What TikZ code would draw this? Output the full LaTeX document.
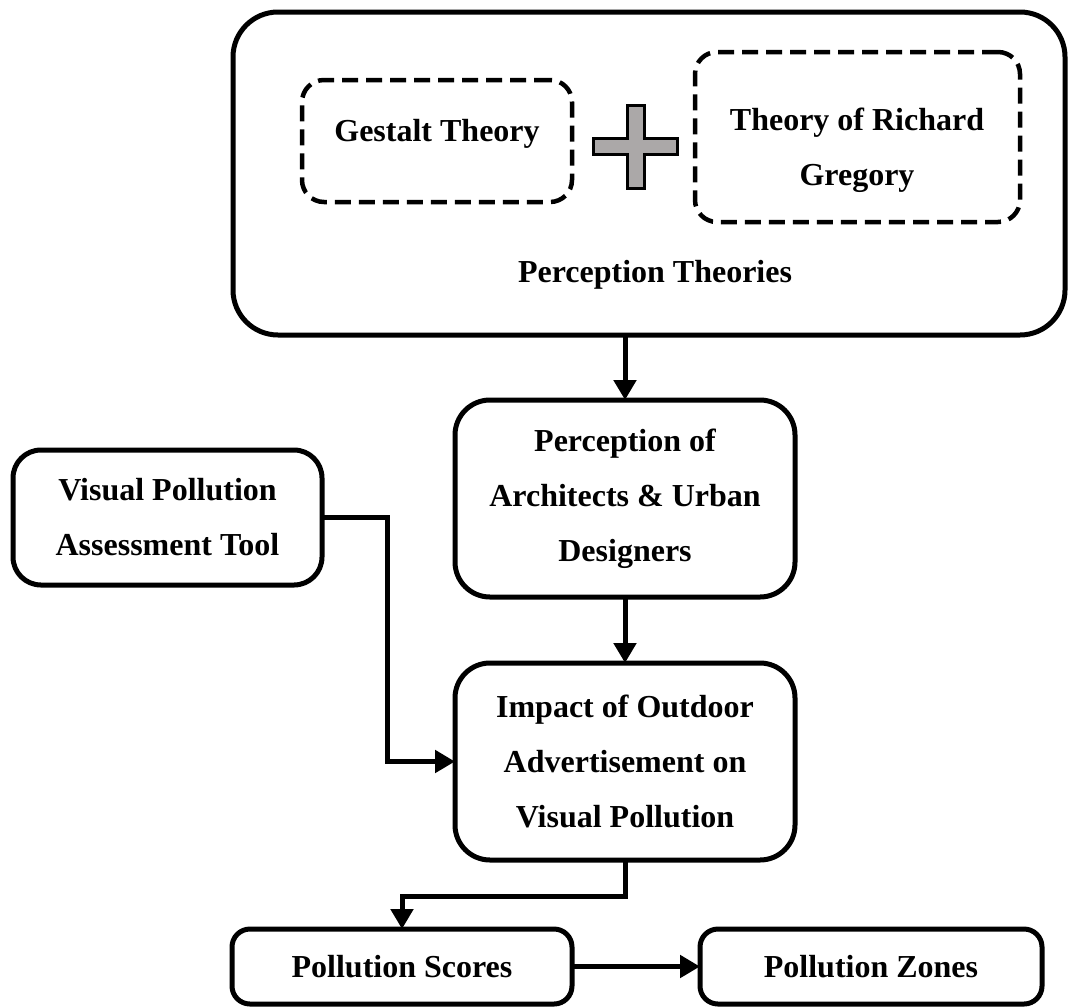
\documentclass[tikz,border=0pt]{standalone}
\usepackage{fontspec}
\setmainfont{Liberation Serif}
\usetikzlibrary{arrows.meta,calc}
\definecolor{plusgray}{HTML}{ABA8A8}
\begin{document}
\begin{tikzpicture}[x=1pt,y=1pt,
  txt/.style={font=\bfseries\fontsize{32}{55}\selectfont, align=center, inner sep=0pt},
  solidbox/.style={draw, line width=5pt, rounded corners=#1, inner sep=0pt, outer sep=0pt,
     font=\bfseries\fontsize{32}{55}\selectfont, align=center},
  dbox/.style={draw, line width=4.5pt, rounded corners=22pt, dash pattern=on 16pt off 8pt,
     inner sep=0pt, outer sep=0pt},
  arr/.style={line width=5pt, -{Triangle[length=20pt,width=22pt]}},
  conn/.style={line width=5pt}
]
\useasboundingbox (0,0) rectangle (1070,-1007);

% Perception theories container
\node[solidbox=45pt, minimum width=832pt, minimum height=323pt] (pt) at (649,-173.5) {};
\node[txt] (ptt) at (655,-275) {Perception Theories};

% dashed boxes
\node[dbox, minimum width=270pt, minimum height=122pt] (gt) at (437,-141) {};
\node[txt] (gtt) at (437,-134) {Gestalt Theory};
\node[dbox, minimum width=325pt, minimum height=170pt] (rg) at (857.5,-137) {};
\node[txt] (rgt) at (857,-150) {Theory of Richard\\Gregory};

% plus sign
\filldraw[fill=plusgray, draw=black, line width=3pt]
  (627,-105) -- (644,-105) -- (644,-138) -- (677,-138) -- (677,-154) -- (644,-154)
  -- (644,-188) -- (627,-188) -- (627,-154) -- (593,-154) -- (593,-138) -- (627,-138) -- cycle;

% main boxes
\node[solidbox=35pt, minimum width=340pt, minimum height=197pt] (pa) at (625,-498.5)
  {Perception of\\Architects \& Urban\\Designers};
\node[solidbox=28pt, minimum width=309pt, minimum height=135pt] (vp) at (167.5,-517.5)
  {Visual Pollution\\Assessment Tool};
\node[solidbox=35pt, minimum width=340pt, minimum height=197pt] (imp) at (625,-761.5)
  {Impact of Outdoor\\Advertisement on\\Visual Pollution};
\node[solidbox=18pt, minimum width=340pt, minimum height=75pt] (ps) at (402,-966.5)
  {Pollution Scores};
\node[solidbox=18pt, minimum width=342pt, minimum height=75pt] (pz) at (871,-966.5)
  {Pollution Zones};

% connectors
\draw[arr] (pt.south -| pa.north) -- (pa.north);
\draw[arr] (pa.south) -- (imp.north);
\draw[arr] (vp.east) -- ++(65,0) |- (imp.west);
\draw[arr] (imp.south) -- ++(0,-36) -| (ps.north);
\draw[arr] (ps.east) -- (pz.west);
\end{tikzpicture}
\end{document}
